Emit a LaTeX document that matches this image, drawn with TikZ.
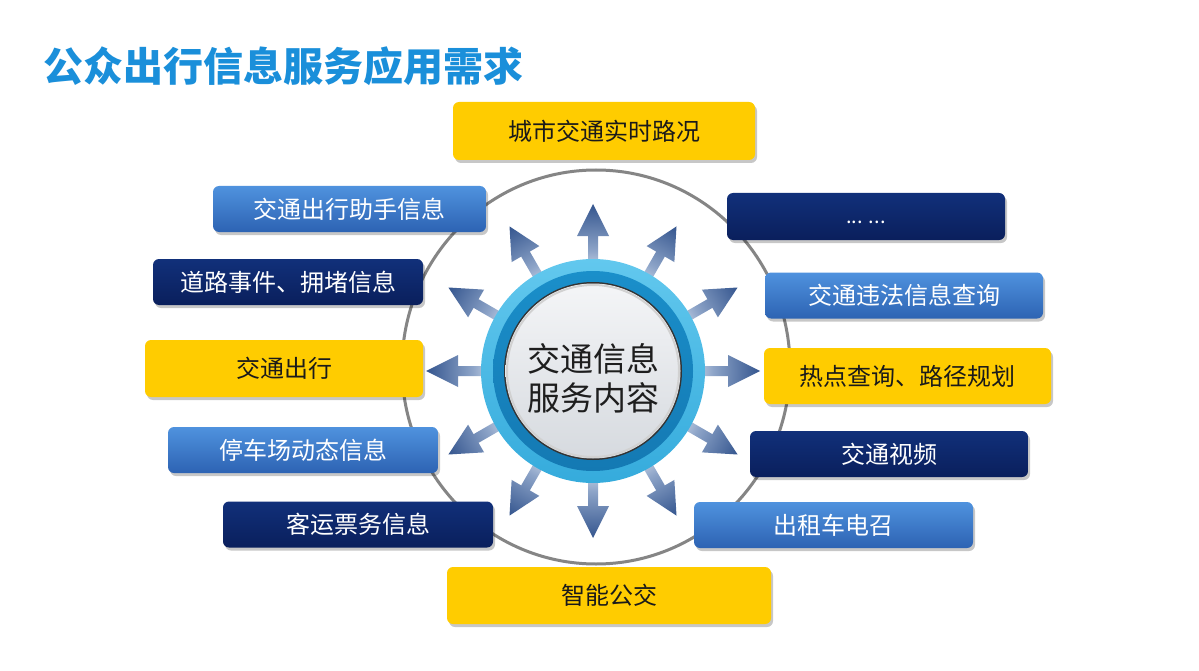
\documentclass[tikz,border=0pt]{standalone}
\usepackage{fontspec}
\setmainfont{Noto Sans CJK SC}
\usetikzlibrary{shadows,calc}
\definecolor{ttl}{HTML}{1A8FDA}
\definecolor{yel}{HTML}{FFCC00}
\definecolor{txtd}{HTML}{1A1A1A}
\definecolor{navT}{HTML}{11307A}
\definecolor{navB}{HTML}{0A1F5C}
\definecolor{bluT}{HTML}{4F92DE}
\definecolor{bluB}{HTML}{2D63B3}
\definecolor{aL}{HTML}{DCE5F0}
\definecolor{aM}{HTML}{8DA4C8}
\definecolor{aD}{HTML}{34558E}
\definecolor{ringLT}{HTML}{62C8EE}
\definecolor{ringLB}{HTML}{35ABDC}
\definecolor{ringDT}{HTML}{1A8FCA}
\definecolor{ringDB}{HTML}{1479B3}
\definecolor{discT}{HTML}{F4F5F7}
\definecolor{discB}{HTML}{D6DADF}
\definecolor{cenT}{HTML}{1E1E1E}
\definecolor{circG}{HTML}{858585}
\pgfdeclareradialshading{arrowrad}{\pgfpoint{0bp}{0bp}}{color(0bp)=(aL); color(14bp)=(aL); color(18bp)=(aM); color(25bp)=(aD); color(50bp)=(aD)}
\begin{document}
\begin{tikzpicture}[x=1pt,y=-1pt]
\tikzset{
  box/.style={rectangle, rounded corners=6pt, inner sep=0pt,
    font=\fontsize{24pt}{27pt}\selectfont,
    drop shadow={shadow xshift=2pt, shadow yshift=-3pt, fill=black, opacity=0.22}},
  yelbox/.style={box, fill=yel, text=txtd},
  navbox/.style={box, top color=navT, bottom color=navB, text=white},
  blubox/.style={box, top color=bluT, bottom color=bluB, text=white},
}
\fill[white] (0,0) rectangle (1199,671);
\useasboundingbox (0,0) rectangle (1199,671);

% big gray circle
\draw[circG, line width=3pt] (596,367) ellipse [x radius=194pt, y radius=197pt];

% arrows
\coordinate (C) at (593,371);
\shade[shading=arrowrad]
  \foreach \a in {0,30,...,330}{
    ($(C)+(\a:95)+(\a+90:5)$) -- ($(C)+(\a:135)+(\a+90:5)$) --
    ($(C)+(\a:135)+(\a+90:16)$) -- ($(C)+(\a:167)$) --
    ($(C)+(\a:135)+(\a-90:16)$) -- ($(C)+(\a:135)+(\a-90:5)$) --
    ($(C)+(\a:95)+(\a-90:5)$) -- cycle
  };

% central ring
\shade[top color=ringLT, bottom color=ringLB] (C) circle (112pt);
\shade[top color=ringDT, bottom color=ringDB] (C) circle (100pt);
\fill[black!80] (C) circle (89pt);
\shade[top color=discT, bottom color=discB] (C) circle (87.5pt);
\draw[black!18, line width=2pt] (C) circle (86pt);
\node[font=\fontsize{33pt}{39pt}\selectfont, align=center, text=cenT] (center) at (593,378) {交通信息\\服务内容};

% boxes
\node[yelbox, minimum width=302pt, minimum height=58pt] (b1) at (604,131) {城市交通实时路况};
\node[blubox, minimum width=273pt, minimum height=46pt] (b2) at (349.5,209) {交通出行助手信息};
\node[navbox, minimum width=270pt, minimum height=46pt] (b3) at (288,282) {道路事件、拥堵信息};
\node[yelbox, minimum width=278pt, minimum height=57pt] (b4) at (284,368.5) {交通出行};
\node[blubox, minimum width=270pt, minimum height=46pt] (b5) at (303,450) {停车场动态信息};
\node[navbox, minimum width=270pt, minimum height=46pt] (b6) at (358,524.5) {客运票务信息};
\node[yelbox, minimum width=324pt, minimum height=57pt] (b7) at (609,595.5) {智能公交};
\node[blubox, minimum width=279pt, minimum height=46pt] (b8) at (833.5,525) {出租车电召};
\node[navbox, minimum width=278pt, minimum height=46pt] (b9) at (889,454) {交通视频};
\node[yelbox, minimum width=287pt, minimum height=56pt] (b10) at (907.5,376) {热点查询、路径规划};
\node[blubox, minimum width=278pt, minimum height=46pt] (b11) at (904,295.5) {交通违法信息查询};
\node[navbox, minimum width=278pt, minimum height=47pt, font=\fontsize{20pt}{24pt}\selectfont] (b12) at (866,216.5) {\smash{\raisebox{-7pt}{... ...}}};

% title
\node[anchor=west, inner sep=0pt, text=ttl, font=\fontsize{40pt}{44pt}\selectfont\bfseries] (title) at (43,66) {公众出行信息服务应用需求};
\end{tikzpicture}
\end{document}
